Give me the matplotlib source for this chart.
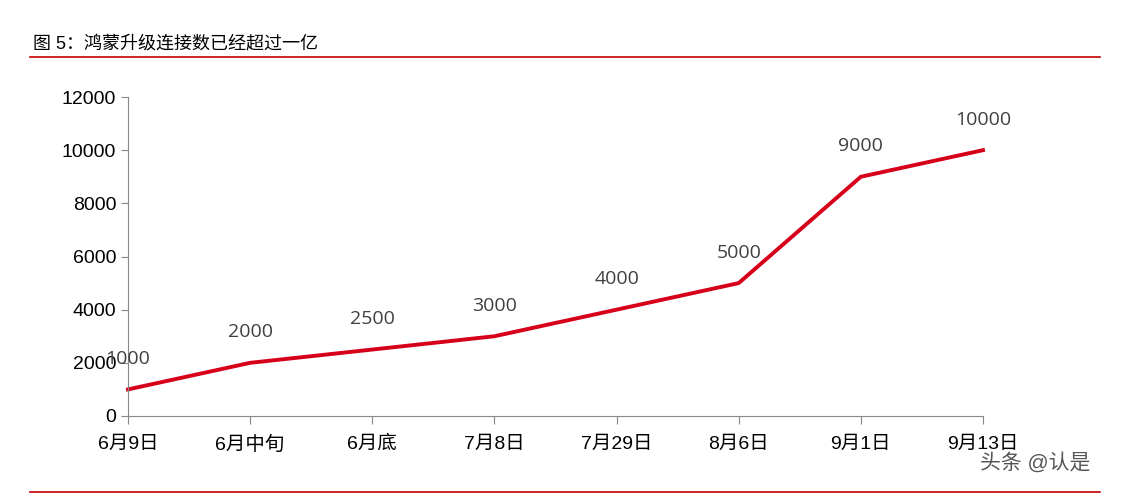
import matplotlib
matplotlib.use("Agg")
import matplotlib.pyplot as plt

plt.rcParams['font.family'] = ['Liberation Sans', 'Noto Sans CJK SC', 'DejaVu Sans']

categories = ["6月9日", "6月中旬", "6月底", "7月8日", "7月29日", "8月6日", "9月1日", "9月13日"]
values = [1000, 2000, 2500, 3000, 4000, 5000, 9000, 10000]
yticks = [0, 2000, 4000, 6000, 8000, 10000, 12000]

fig = plt.figure(figsize=(11.48, 4.96), dpi=100)
ax = fig.add_axes([128/1148, 1-416/496, 855/1148, 319/496])
x = list(range(len(categories)))
ax.plot(x, values, color='#D7001A', lw=2.8, clip_on=False)
for xi, v in zip(x, values):
    ax.annotate(str(v), (xi, v), xytext=(0, 22), textcoords='offset points',
                ha='center', va='center', fontsize=14, color='#404040',
                family=['Open Sans', 'DejaVu Sans'])
ax.set_xlim(0, 7)
ax.set_ylim(0, 12000)
ax.set_xticks(x)
ax.set_xticklabels(categories, fontsize=14)
ax.set_yticks(yticks)
ax.set_yticklabels([str(t) for t in yticks], fontsize=14)
for s in ['top', 'right']:
    ax.spines[s].set_visible(False)
ax.spines['left'].set_color('#888888')
ax.spines['bottom'].set_color('#888888')
ax.tick_params(axis='x', direction='out', length=6, color='#888888', pad=8)
ax.tick_params(axis='y', direction='out', length=5, color='#888888')

fig.text(33/1148, 1-44/496, "图 5：鸿蒙升级连接数已经超过一亿", fontsize=13, va='center', ha='left', color='black')
fig.add_artist(plt.Line2D([30/1148, 1100/1148], [1-57/496]*2, color='#C00000', lw=1.2))
fig.add_artist(plt.Line2D([30/1148, 1100/1148], [1-492/496]*2, color='#C00000', lw=1.2))
fig.text(980/1148, 1-462/496, "头条 @认是", fontsize=15, va='center', ha='left', color='#555555')
fig.savefig("out.png", dpi=100)
